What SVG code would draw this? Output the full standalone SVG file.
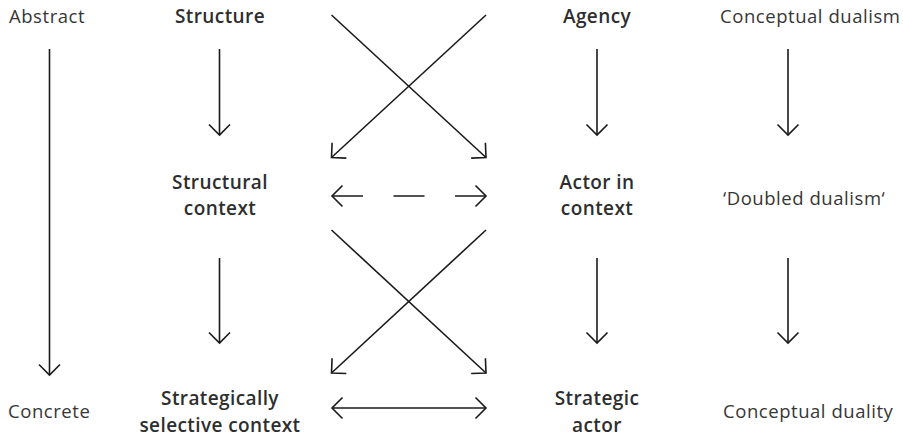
<svg xmlns="http://www.w3.org/2000/svg" width="903" height="438" viewBox="0 0 903 438">
<defs>
<style>
text{font-family:"Open Sans","Liberation Sans",sans-serif;font-size:18.5px;fill:#363636;letter-spacing:0.55px}
.b{font-weight:600;font-size:19px;fill:#2e2e2e;text-anchor:middle;letter-spacing:0.4px}
.l{stroke:#1a1a1a;stroke-width:1.6;fill:none}
.h{stroke:#1a1a1a;stroke-width:1.6;fill:none;stroke-linecap:butt;stroke-linejoin:miter}
</style>
<marker id="ah" markerUnits="userSpaceOnUse" viewBox="-12 -12 14 24" markerWidth="14" markerHeight="24" refX="0" refY="0" orient="auto-start-reverse" overflow="visible">
<path class="h" d="M-10.5,-10.5 L0,0 L-10.5,10.5"/>
</marker>
</defs>
<rect width="903" height="438" fill="#fff"/>
<g id="connectors">
<line class="l" x1="49.5" y1="49" x2="49.5" y2="375" marker-end="url(#ah)"/>
<line class="l" x1="219.5" y1="49" x2="219.5" y2="135" marker-end="url(#ah)"/>
<line class="l" x1="219.5" y1="258" x2="219.5" y2="343" marker-end="url(#ah)"/>
<line class="l" x1="597" y1="49" x2="597" y2="135" marker-end="url(#ah)"/>
<line class="l" x1="597" y1="258" x2="597" y2="343" marker-end="url(#ah)"/>
<line class="l" x1="788" y1="49" x2="788" y2="135" marker-end="url(#ah)"/>
<line class="l" x1="788" y1="258" x2="788" y2="343" marker-end="url(#ah)"/>
<line class="l" x1="331.5" y1="15" x2="486" y2="157.5" marker-end="url(#ah)"/>
<line class="l" x1="486" y1="15" x2="331.5" y2="157.5" marker-end="url(#ah)"/>
<line class="l" x1="331.5" y1="230" x2="486" y2="373" marker-end="url(#ah)"/>
<line class="l" x1="486" y1="230" x2="331.5" y2="373" marker-end="url(#ah)"/>
<line class="l" x1="332" y1="196" x2="486" y2="196" stroke-dasharray="31 30.5" marker-start="url(#ah)" marker-end="url(#ah)"/>
<line class="l" x1="332" y1="408" x2="486" y2="408" marker-start="url(#ah)" marker-end="url(#ah)"/>
</g>
<g id="abstract"><text x="9" y="23">Abstract</text></g>
<g id="concrete"><text x="8" y="418">Concrete</text></g>
<g id="structure"><text class="b" x="220" y="23">Structure</text></g>
<g id="structural-context"><text class="b" x="220" y="189">Structural</text><text class="b" x="220" y="215">context</text></g>
<g id="strategically-selective-context"><text class="b" x="220" y="405">Strategically</text><text class="b" x="220" y="432">selective context</text></g>
<g id="agency"><text class="b" x="597" y="23">Agency</text></g>
<g id="actor-in-context"><text class="b" x="597" y="189">Actor in</text><text class="b" x="597" y="215">context</text></g>
<g id="strategic-actor"><text class="b" x="597" y="405">Strategic</text><text class="b" x="597" y="432">actor</text></g>
<g id="conceptual-dualism"><text x="720" y="23">Conceptual dualism</text></g>
<g id="doubled-dualism"><text x="723" y="205">‘Doubled dualism‘</text></g>
<g id="conceptual-duality"><text x="723" y="418">Conceptual duality</text></g>
</svg>
